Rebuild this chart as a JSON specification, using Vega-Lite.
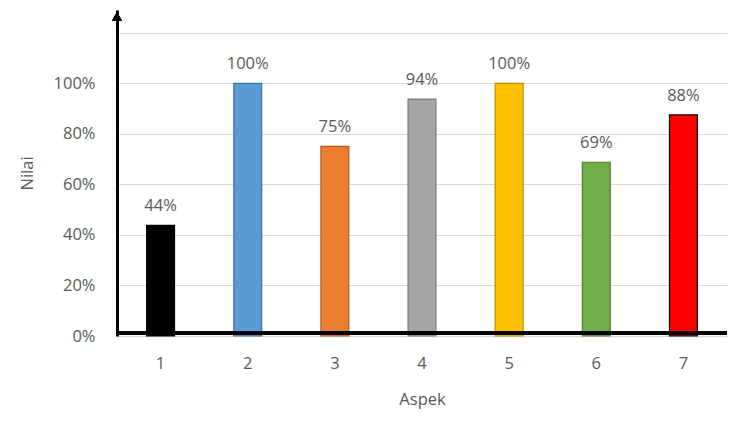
{
  "$schema": "https://vega.github.io/schema/vega-lite/v6.json",
  "autosize": "none",
  "width": 610,
  "height": 326,
  "padding": {"left": 117, "top": 10, "right": 12, "bottom": 96},
  "background": "white",
  "config": {
    "view": {"stroke": null},
    "font": "Open Sans",
    "axis": {"labelColor": "#595959", "titleColor": "#595959", "labelFontSize": 16.5, "titleFontSize": 16.5, "titleFontWeight": "normal", "ticks": false}
  },
  "data": {
    "values": [
      {"aspek": "1", "nilai": 0.4375, "fill": "#000000", "line": "#000000"},
      {"aspek": "2", "nilai": 1.0, "fill": "#5B9BD5", "line": "#41719C"},
      {"aspek": "3", "nilai": 0.75, "fill": "#ED7D31", "line": "#AE5A21"},
      {"aspek": "4", "nilai": 0.9375, "fill": "#A5A5A5", "line": "#787878"},
      {"aspek": "5", "nilai": 1.0, "fill": "#FFC000", "line": "#BC8C00"},
      {"aspek": "6", "nilai": 0.6875, "fill": "#70AD47", "line": "#507E32"},
      {"aspek": "7", "nilai": 0.875, "fill": "#FF0000", "line": "#000000"}
    ]
  },
  "layer": [
    {
      "mark": {"type": "bar", "strokeWidth": 1.2},
      "encoding": {
        "x": {
          "field": "aspek", "type": "nominal", "title": "Aspek",
          "scale": {"paddingInner": 0.68, "paddingOuter": 0.34},
          "axis": {"labelAngle": 0, "labelPadding": 19, "titlePadding": 20, "domainColor": "#d9d9d9", "domainWidth": 1.5}
        },
        "y": {
          "field": "nilai", "type": "quantitative", "title": "Nilai",
          "scale": {"domain": [0, 1.29], "nice": false},
          "axis": {
            "values": [0, 0.2, 0.4, 0.6, 0.8, 1.0, 1.2],
            "format": ".0%",
            "labelExpr": "datum.value > 1.1 ? '' : datum.label",
            "gridColor": "#d9d9d9",
            "domainColor": "#000000",
            "domainWidth": 3,
            "labelPadding": 22,
            "titlePadding": 18
          }
        },
        "fill": {"field": "fill", "type": "nominal", "scale": null},
        "stroke": {"field": "line", "type": "nominal", "scale": null}
      }
    },
    {
      "mark": {"type": "text", "baseline": "bottom", "dy": -11, "fontSize": 16.5, "color": "#595959"},
      "encoding": {
        "x": {"field": "aspek", "type": "nominal"},
        "y": {"field": "nilai", "type": "quantitative"},
        "text": {"field": "nilai", "type": "quantitative", "format": ".0%"}
      }
    },
    {
      "mark": {"type": "rule", "color": "#000000", "strokeWidth": 3},
      "encoding": {"y": {"datum": 0.012}}
    },
    {
      "mark": {"type": "point", "shape": "triangle-up", "filled": true, "color": "#000000", "size": 90, "opacity": 1},
      "encoding": {"x": {"value": 0}, "y": {"datum": 1.265}}
    }
  ]
}
